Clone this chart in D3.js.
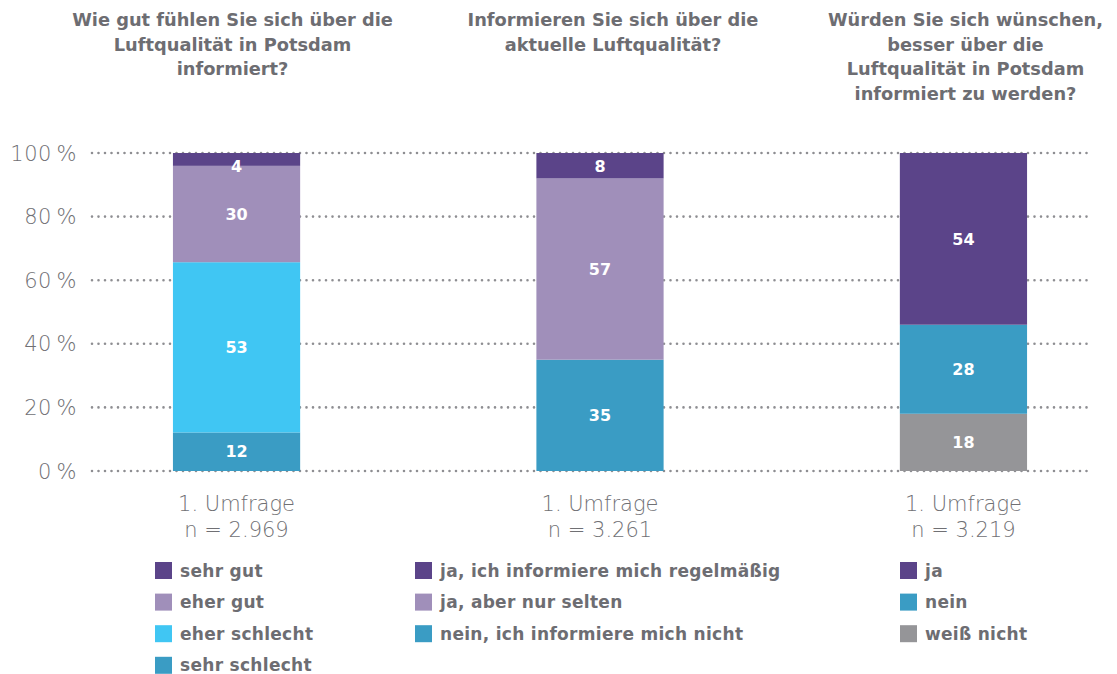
<!DOCTYPE html>
<html>
<head>
<meta charset="utf-8">
<script src="https://cdn.jsdelivr.net/npm/d3@7"></script>
<style>
  body { margin: 0; background: #fff; }
  text { font-family: "DejaVu Sans", sans-serif; }
</style>
</head>
<body>
<div id="chart"></div>
<script>
// questions (titles, split as in the original)
const titles = [
  ["Wie gut fühlen Sie sich über die", "Luftqualität in Potsdam", "informiert?"],
  ["Informieren Sie sich über die", "aktuelle Luftqualität?"],
  ["Würden Sie sich wünschen,", "besser über die", "Luftqualität in Potsdam", "informiert zu werden?"]
]
const surveys = ["1. Umfrage", "1. Umfrage", "1. Umfrage"]
const sampleSizes = ["n = 2.969", "n = 3.261", "n = 3.219"]

// answer categories per question, bottom -> top
const cats1 = ["sehr schlecht", "eher schlecht", "eher gut", "sehr gut"]
const vals1 = [12, 53, 30, 4]
const cats2 = ["nein, ich informiere mich nicht", "ja, aber nur selten", "ja, ich informiere mich regelmäßig"]
const vals2 = [35, 57, 8]
const cats3 = ["weiß nicht", "nein", "ja"]
const vals3 = [18, 28, 54]

const colors1 = ["#3a9cc4", "#40c6f3", "#a08fba", "#5b4489"]
const colors2 = ["#3a9cc4", "#a08fba", "#5b4489"]
const colors3 = ["#959598", "#3a9cc4", "#5b4489"]

const yTicks = [0, 20, 40, 60, 80, 100]

const width = 1117, height = 674
const margin = {left: 92, right: 27, top: 153, bottom: 203}

const svg = d3.select("#chart").append("svg")
  .attr("width", width)
  .attr("height", height)

const y = d3.scaleLinear().domain([0, 100]).range([height - margin.bottom, margin.top])
const x = d3.scaleBand()
  .domain([0, 1, 2])
  .range([53, 1147])
  .paddingInner(0.65)
  .paddingOuter(0.33)

const grey = "#6d6d72"

// gridlines
svg.append("g").selectAll("line")
  .data(yTicks).enter().append("line")
  .attr("x1", margin.left).attr("x2", width - margin.right)
  .attr("y1", d => y(d)).attr("y2", d => y(d))
  .attr("stroke", "#8e8e92")
  .attr("stroke-width", 2.6)
  .attr("stroke-linecap", "round")
  .attr("stroke-dasharray", "0 6.5")

// y axis labels
svg.append("g").selectAll("text")
  .data(yTicks).enter().append("text")
  .attr("x", 77).attr("y", d => y(d))
  .attr("dy", "0.36em")
  .attr("text-anchor", "end")
  .attr("fill", "#707074")
  .style("font-size", "21px")
  .style("font-weight", 200)
  .style("letter-spacing", "0.5px")
  .text(d => d + "\u2009%")

const groups = [
  {cats: cats1, vals: vals1, colors: colors1},
  {cats: cats2, vals: vals2, colors: colors2},
  {cats: cats3, vals: vals3, colors: colors3}
]

groups.forEach((g, i) => {
  const total = d3.sum(g.vals)
  let acc = 0
  const segs = g.vals.map((v, j) => {
    const s = {y0: acc / total * 100, y1: (acc + v) / total * 100, v: v, c: g.colors[j]}
    acc += v
    return s
  })
  const bg = svg.append("g")
  bg.selectAll("rect").data(segs).enter().append("rect")
    .attr("x", x(i))
    .attr("width", x.bandwidth())
    .attr("y", d => y(d.y1))
    .attr("height", d => y(d.y0) - y(d.y1))
    .attr("fill", d => d.c)
  bg.selectAll("text").data(segs).enter().append("text")
    .attr("x", x(i) + x.bandwidth() / 2)
    .attr("y", d => Math.max(y((d.y0 + d.y1) / 2), y(d.y1) + 13))
    .attr("dy", "0.36em")
    .attr("text-anchor", "middle")
    .attr("fill", "#fff")
    .style("font-size", "16px")
    .style("font-weight", "bold")
    .text(d => d.v)

  const cx = x(i) + x.bandwidth() / 2

  // title
  const t = svg.append("text")
    .attr("text-anchor", "middle")
    .attr("fill", grey)
    .style("font-size", "17.8px")
    .style("font-weight", "bold")
  titles[i].forEach((line, k) => {
    t.append("tspan").attr("x", cx + [-4, 13, 2][i]).attr("y", 26 + k * 24.6).text(line)
  })

  // category label
  svg.append("text")
    .attr("x", cx).attr("y", 511)
    .attr("text-anchor", "middle")
    .attr("fill", "#707074")
    .style("font-size", "21px")
    .style("font-weight", 200)
    .text(surveys[i])
  svg.append("text")
    .attr("x", cx).attr("y", 537)
    .attr("text-anchor", "middle")
    .attr("fill", "#707074")
    .style("font-size", "21px")
    .style("font-weight", 200)
    .text(sampleSizes[i])

  // legend, top -> bottom
  const lx = [155, 415, 900][i]
  const items = g.cats.map((c, j) => ({c: c, col: g.colors[j]})).reverse()
  const lg = svg.append("g").attr("transform", `translate(${lx}, 562)`)
  const row = lg.selectAll("g").data(items).enter().append("g")
    .attr("transform", (d, k) => `translate(0, ${k * 31.6})`)
  row.append("rect")
    .attr("width", 17).attr("height", 17)
    .attr("fill", d => d.col)
  row.append("text")
    .attr("x", 25).attr("y", 8.5)
    .attr("dy", "0.36em")
    .attr("fill", grey)
    .style("font-size", "17px")
    .style("font-weight", "bold")
    .style("letter-spacing", "0.3px")
    .text(d => d.c)
})
</script>
</body>
</html>
